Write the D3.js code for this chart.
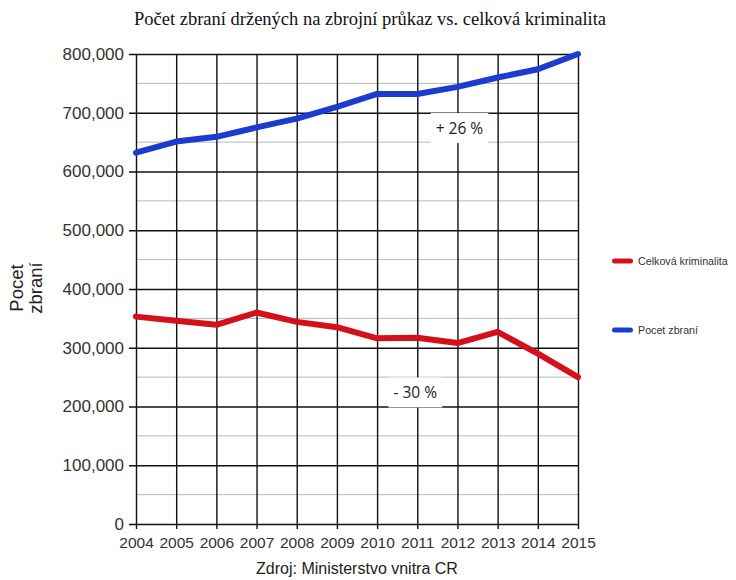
<!DOCTYPE html>
<html>
<head>
<meta charset="utf-8">
<script src="https://cdn.jsdelivr.net/npm/d3@7"></script>
<style>
  body { margin: 0; background: #fff; }
  svg { display: block; }
</style>
</head>
<body>
<div id="chart"></div>
<script>
// data
const years = [2004, 2005, 2006, 2007, 2008, 2009, 2010, 2011, 2012, 2013, 2014, 2015]
const zbrane = [632000, 651000, 659000, 675000, 690000, 710000, 732000, 732000, 744000, 760000, 774000, 800000]
const kriminalita = [353000, 346000, 339000, 360000, 344000, 335000, 316000, 317000, 308000, 327000, 290000, 250000]
const yTicks = [0, 100000, 200000, 300000, 400000, 500000, 600000, 700000, 800000]
const series = [
    {name: 'Celková kriminalita', values: kriminalita, color: '#d4111a'},
    {name: 'Pocet zbraní', values: zbrane, color: '#1b3ccf'}
]

const W = 736, H = 580
const m = {t: 54, r: 158, b: 56, l: 136}
const w = W - m.l - m.r, h = H - m.t - m.b

const svg = d3.select('#chart').append('svg')
    .attr('width', W).attr('height', H)

svg.append('text')
    .attr('x', 370).attr('y', 25)
    .attr('text-anchor', 'middle')
    .style('font-family', '"Liberation Serif", serif')
    .style('font-size', '18.5px')
    .attr('fill', '#111')
    .text('Počet zbraní držených na zbrojní průkaz vs. celková kriminalita')

const g = svg.append('g').attr('transform', 'translate(' + m.l + ',' + m.t + ')')

const x = d3.scaleLinear().domain([2004, 2015]).range([0, w])
const y = d3.scaleLinear().domain([0, 800000]).range([h, 0])

// light minor lines at the half steps
g.append('g').selectAll('line')
    .data(yTicks.slice(1).map(d => d - 50000))
    .enter().append('line')
    .attr('x1', 0).attr('x2', w)
    .attr('y1', d => y(d)).attr('y2', d => y(d))
    .attr('stroke', '#b8b8b8').attr('stroke-width', 1)

// y axis with black grid
const yAxis = g.append('g')
    .call(d3.axisLeft(y).tickValues(yTicks).tickSize(-w).tickSizeOuter(0).tickPadding(12)
        .tickFormat(d3.format(',')))
yAxis.select('.domain').remove()
yAxis.selectAll('.tick line').attr('x1', -7).attr('stroke', '#111').attr('stroke-width', 1.4)
yAxis.selectAll('text')
    .style('font-family', '"Liberation Sans", Arial, sans-serif')
    .style('font-size', '17px').attr('fill', '#333')

// x axis with vertical grid
const xAxis = g.append('g').attr('transform', 'translate(0,' + h + ')')
    .call(d3.axisBottom(x).tickValues(years).tickSize(-h).tickSizeOuter(0).tickPadding(13)
        .tickFormat(d3.format('d')))
xAxis.select('.domain').remove()
xAxis.selectAll('.tick line').attr('y1', 5).attr('stroke', '#111').attr('stroke-width', 1.4)
xAxis.selectAll('text')
    .style('font-family', '"Liberation Sans", Arial, sans-serif')
    .style('font-size', '15.5px').attr('fill', '#333')

// series lines
const line = d3.line().x((d, i) => x(years[i])).y(d => y(d))
series.forEach(s => {
    g.append('path').datum(s.values)
        .attr('d', line)
        .attr('fill', 'none')
        .attr('stroke', s.color)
        .attr('stroke-width', 6)
        .attr('stroke-linejoin', 'round')
        .attr('stroke-linecap', 'round')
})

// annotations with white boxes
function note(txt, cx, cy) {
    const t = g.append('g')
    const label = t.append('text')
        .attr('x', cx).attr('y', cy)
        .attr('text-anchor', 'middle').attr('dy', '0.35em')
        .style('font-family', '"Open Sans", sans-serif')
        .style('font-size', '15.5px').attr('fill', '#222')
        .text(txt)
    const bb = label.node().getBBox()
    t.insert('rect', 'text')
        .attr('x', bb.x - 5).attr('y', bb.y - 4)
        .attr('width', bb.width + 10).attr('height', bb.height + 8)
        .attr('fill', '#fff')
}
note('+ 26 %', x(2012.05), y(673000))
note('- 30 %', x(2010.95), y(223000))

// y axis title
const yt = svg.append('text')
    .attr('transform', 'translate(23,288) rotate(-90)')
    .attr('text-anchor', 'middle')
    .style('font-family', '"Liberation Sans", Arial, sans-serif')
    .style('font-size', '18.5px').attr('fill', '#222')
yt.append('tspan').attr('x', 0).attr('dy', '0').text('Pocet')
yt.append('tspan').attr('x', 0).attr('dy', '1.05em').text('zbraní')

// legend
const leg = svg.append('g').attr('transform', 'translate(612,0)')
const legRows = [{s: series[0], y: 261}, {s: series[1], y: 330}]
legRows.forEach(r => {
    leg.append('line')
        .attr('x1', 2.5).attr('x2', 18.5).attr('y1', r.y).attr('y2', r.y)
        .attr('stroke', r.s.color).attr('stroke-width', 5).attr('stroke-linecap', 'round')
    leg.append('text')
        .attr('x', 26).attr('y', r.y).attr('dy', '0.35em')
        .style('font-family', '"Liberation Sans", Arial, sans-serif')
        .style('font-size', '10.7px').attr('fill', '#333')
        .text(r.s.name)
})

// source
svg.append('text')
    .attr('x', 357).attr('y', 574)
    .attr('text-anchor', 'middle')
    .style('font-family', '"Liberation Sans", Arial, sans-serif')
    .style('font-size', '16px').attr('fill', '#222')
    .text('Zdroj: Ministerstvo vnitra CR')
</script>
</body>
</html>
